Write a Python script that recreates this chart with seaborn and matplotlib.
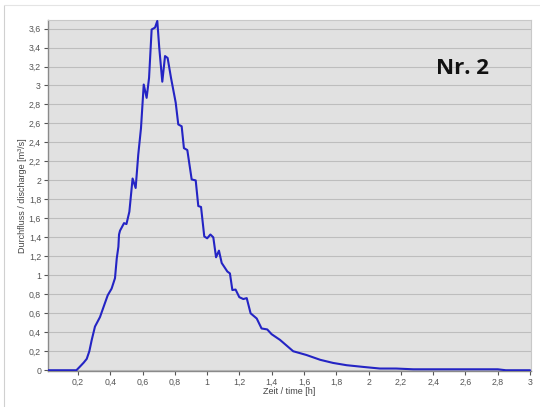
import matplotlib
matplotlib.use("Agg")
import matplotlib.pyplot as plt
import seaborn as sns
import pandas as pd
from matplotlib.ticker import FuncFormatter, MultipleLocator
from matplotlib.lines import Line2D

# Time [h]
time_h = [0.01, 0.05, 0.10, 0.15, 0.19, 0.21, 0.235, 0.254, 0.27, 0.285, 0.305, 0.336,
          0.363, 0.384, 0.408, 0.429, 0.44, 0.45, 0.454, 0.46, 0.485, 0.50, 0.518, 0.538,
          0.557, 0.573, 0.59, 0.607, 0.625, 0.64, 0.656, 0.677, 0.691, 0.703, 0.722,
          0.739, 0.755, 0.776, 0.805, 0.821, 0.842, 0.856, 0.877, 0.904, 0.929, 0.945,
          0.962, 0.982, 1.0, 1.02, 1.038, 1.055, 1.073, 1.09, 1.125, 1.141, 1.156, 1.176,
          1.199, 1.224, 1.245, 1.269, 1.307, 1.337, 1.372, 1.399, 1.451, 1.492, 1.533,
          1.575, 1.616, 1.70, 1.78, 1.864, 1.967, 2.07, 2.17, 2.276, 2.5, 2.8, 2.85, 3.0]
# Discharge [m3/s]
discharge = [0.0, 0.0, 0.0, 0.0, 0.0, 0.035, 0.08, 0.12, 0.2, 0.32, 0.46, 0.56,
             0.69, 0.79, 0.86, 0.97, 1.18, 1.30, 1.43, 1.47, 1.55, 1.54, 1.67, 2.02,
             1.92, 2.27, 2.55, 3.01, 2.87, 3.08, 3.59, 3.61, 3.68, 3.40, 3.04,
             3.31, 3.29, 3.08, 2.82, 2.59, 2.57, 2.34, 2.32, 2.01, 2.0, 1.73,
             1.72, 1.41, 1.39, 1.43, 1.40, 1.19, 1.26, 1.13, 1.04, 1.02, 0.845, 0.85,
             0.77, 0.75, 0.76, 0.60, 0.545, 0.44, 0.43, 0.38, 0.32, 0.26, 0.20,
             0.18, 0.16, 0.11, 0.077, 0.053, 0.035, 0.018, 0.018, 0.01, 0.01, 0.01, 0.0, 0.0]

x_ticks = [0.2, 0.4, 0.6, 0.8, 1.0, 1.2, 1.4, 1.6, 1.8, 2.0, 2.2, 2.4, 2.6, 2.8, 3.0]
title_text = "Nr. 2"
x_label = "Zeit / time [h]"
y_label = "Durchfluss / discharge [m³/s]"

df = pd.DataFrame({"t": time_h, "q": discharge})

sns.set_style("white")
plt.rcParams["font.family"] = ["Liberation Sans", "DejaVu Sans"]

fig = plt.figure(figsize=(5.40, 4.07), dpi=100)
ax = fig.add_axes([48/540, 1-371/407, (531-48)/540, (371-20)/407])
ax.set_facecolor("#e1e1e1")

sns.lineplot(data=df, x="t", y="q", ax=ax, color="#2424c4", linewidth=1.5,
             estimator=None, sort=False, zorder=3)

ax.set_xlim(0.014, 3.006)
ax.set_ylim(-0.008, 3.69)
ax.set_xticks(x_ticks)
ax.yaxis.set_major_locator(MultipleLocator(0.2))

def fmt(v, pos):
    s = f"{v:.1f}"
    if s.endswith(".0"):
        s = s[:-2]
    return s.replace(".", ",")

ax.xaxis.set_major_formatter(FuncFormatter(fmt))
ax.yaxis.set_major_formatter(FuncFormatter(fmt))

ax.grid(axis="y", color="#bdbdbd", linewidth=0.8)
ax.grid(axis="x", visible=False)
ax.set_axisbelow(True)

ax.tick_params(axis="both", labelsize=6.3, colors="#555555", length=3, width=0.8,
               direction="out", pad=2, left=True, bottom=True)
for side in ["left", "bottom"]:
    ax.spines[side].set_color("#8a8a8a")
    ax.spines[side].set_linewidth(1.0)
for side in ["top", "right"]:
    ax.spines[side].set_color("#c8c8c8")
    ax.spines[side].set_linewidth(0.8)

ax.set_xlabel(x_label, fontsize=6.5, color="#444444", labelpad=0)
ax.set_ylabel(y_label, fontsize=6.5, color="#444444", labelpad=1)

ax.text(0.859, 0.863, title_text, transform=ax.transAxes, fontsize=16,
        fontweight="bold", family=["Open Sans", "DejaVu Sans"], color="#111111",
        ha="center", va="center")

# faint frame of the figure
fig.add_artist(Line2D([4/540, 4/540], [0, 1-5/407], transform=fig.transFigure,
                      color="#d0d0d0", linewidth=0.8))
fig.add_artist(Line2D([4/540, 1], [1-5/407, 1-5/407], transform=fig.transFigure,
                      color="#e4e4e4", linewidth=0.8))

fig.savefig("out.png", dpi=100)
